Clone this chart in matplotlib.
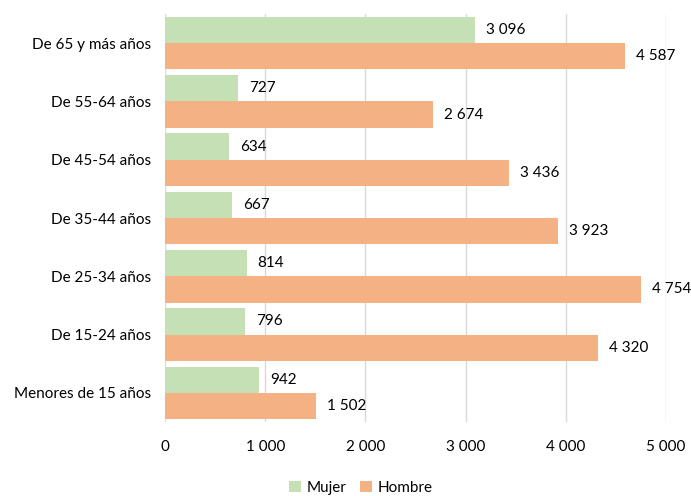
import matplotlib
matplotlib.use("Agg")
import matplotlib.pyplot as plt
import numpy as np

categories = ["De 65 y más años", "De 55-64 años", "De 45-54 años", "De 35-44 años",
              "De 25-34 años", "De 15-24 años", "Menores de 15 años"]
mujer = [3096, 727, 634, 667, 814, 796, 942]
hombre = [4587, 2674, 3436, 3923, 4754, 4320, 1502]
xticks = [0, 1000, 2000, 3000, 4000, 5000]

def fmt(v):
    return f"{v:,}".replace(",", " ")

plt.rcParams['font.family'] = ['Lato', 'DejaVu Sans']
FS = 11

fig = plt.figure(figsize=(6.91, 4.96), dpi=100)
ax = fig.add_axes([165/691, 1-422/496, (666-165)/691, (422-14)/496])

n = len(categories)
y = np.arange(n)[::-1].astype(float)
h = 0.45
green = "#C5E0B4"
orange = "#F4B183"
b1 = ax.barh(y + h/2, mujer, height=h, color=green, label="Mujer", zorder=3)
b2 = ax.barh(y - h/2, hombre, height=h, color=orange, label="Hombre", zorder=3)

for yy, v in zip(y + h/2, mujer):
    ax.annotate(fmt(v), (v, yy), xytext=(8, 0), textcoords="offset points",
                va="center", ha="left", fontsize=FS, color="#000000")
for yy, v in zip(y - h/2, hombre):
    ax.annotate(fmt(v), (v, yy), xytext=(8, 0), textcoords="offset points",
                va="center", ha="left", fontsize=FS, color="#000000")

ax.set_xlim(0, 5000)
ax.set_ylim(-0.5, n - 0.5)
ax.set_xticks(xticks)
ax.set_xticklabels([fmt(t) for t in xticks], fontsize=FS)
ax.set_yticks(y)
ax.set_yticklabels(categories, fontsize=FS)
ax.tick_params(axis='both', length=0)
ax.tick_params(axis='x', pad=13)
ax.tick_params(axis='y', pad=10)
ax.grid(axis='x', color="#D9D9D9", linewidth=1, zorder=0)
for s in ax.spines.values():
    s.set_visible(False)

fig.legend(handles=[b1, b2], labels=["Mujer", "Hombre"], loc="center",
           bbox_to_anchor=(361/691, 1-488/496), ncol=2, frameon=False, fontsize=FS,
           handlelength=0.75, handleheight=0.75, handletextpad=0.4, columnspacing=0.9)

fig.savefig("out.png", dpi=100)
